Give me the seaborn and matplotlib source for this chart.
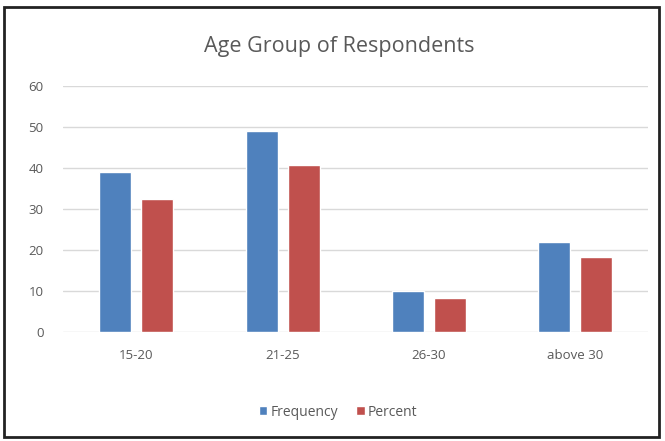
import matplotlib
matplotlib.use("Agg")
import matplotlib.pyplot as plt
import pandas as pd
import seaborn as sns
from matplotlib.patches import Rectangle

# values
age_groups = ["15-20", "21-25", "26-30", "above 30"]
frequency = [39, 49, 10, 22]
percent = [32.5, 40.8, 8.3, 18.3]

df = pd.DataFrame({
    "group": age_groups * 2,
    "value": frequency + percent,
    "series": ["Frequency"] * 4 + ["Percent"] * 4,
})

sns.set_style("white")
plt.rcParams["font.family"] = ["Open Sans", "DejaVu Sans"]

fig = plt.figure(figsize=(6.65, 4.41), dpi=100)
ax = fig.add_axes([0.095, 0.247, 0.88, 0.558])

sns.barplot(data=df, x="group", y="value", hue="series",
            palette=["#4F81BD", "#C0504D"], width=0.575, gap=0.24,
            saturation=1, ax=ax, zorder=3)

ax.set_ylim(0, 60)
ax.set_yticks(range(0, 61, 10))
ax.set_xlim(-0.5, 3.5)
ax.yaxis.grid(True, color="#D9D9D9", linewidth=1, zorder=0)
ax.set_axisbelow(True)
for s in ax.spines.values():
    s.set_visible(False)
ax.set_xlabel("")
ax.set_ylabel("")
ax.tick_params(axis="both", length=0, labelsize=9.5, labelcolor="#595959")
ax.tick_params(axis="x", pad=12)
ax.tick_params(axis="y", pad=14)

fig.text(0.51, 0.895, "Age Group of Respondents", ha="center", va="center",
         fontsize=15.5, color="#595959")

leg = ax.legend(loc="center", bbox_to_anchor=(0.47, -0.325), ncol=2,
                frameon=False, fontsize=10, handlelength=0.6, handleheight=0.6,
                columnspacing=1.3, handletextpad=0.25)
for t in leg.get_texts():
    t.set_color("#595959")

# outer frame
fig.patches.append(Rectangle((0.006, 0.008), 0.985, 0.975, transform=fig.transFigure,
                             fill=False, edgecolor="#222222", linewidth=2))

fig.savefig("out.png", dpi=100)
